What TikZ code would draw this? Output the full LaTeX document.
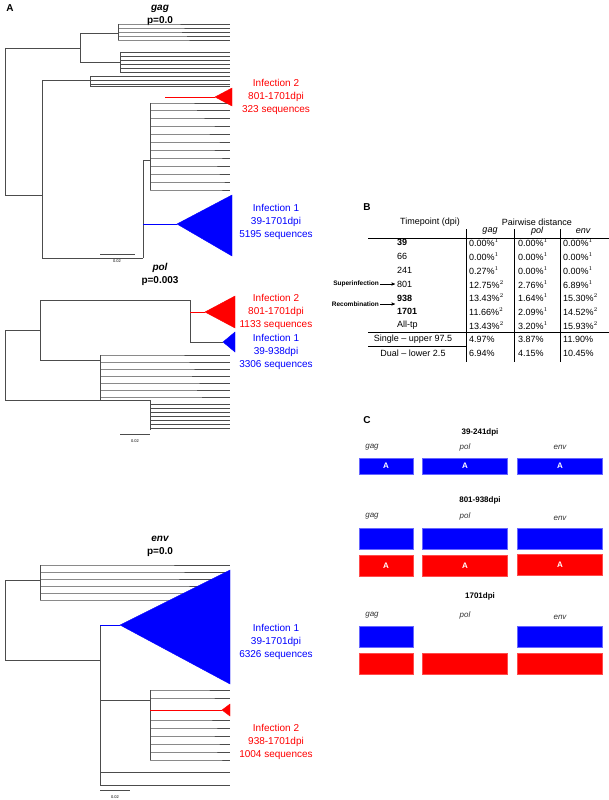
\documentclass[tikz,border=0pt]{standalone}
\usepackage{fontspec}
\setmainfont{Liberation Sans}
\usetikzlibrary{arrows}
\begin{document}
\begin{tikzpicture}[x=1pt,y=-1pt,>=stealth',
  br/.style={draw=black!70,line width=0.4pt},
  gene/.style={font=\bfseries\itshape\fontsize{10}{12}\selectfont},
  pval/.style={font=\bfseries\fontsize{10}{12}\selectfont},
  inf1/.style={text=blue,font=\fontsize{10}{13}\selectfont,align=center},
  inf2/.style={text=red,font=\fontsize{10}{13}\selectfont,align=center},
  cell/.style={font=\fontsize{9}{10}\selectfont,inner sep=1pt},
  bar/.style={minimum width=#1,minimum height=21,inner sep=0pt,text=white,font=\bfseries\fontsize{8}{9}\selectfont},
  blueb/.style={bar=#1,fill=blue,draw=blue!60},
  redb/.style={bar=#1,fill=red,draw=red!70},
  ctitle/.style={font=\bfseries\fontsize{8}{10}\selectfont},
  cgene/.style={font=\itshape\fontsize{8}{10}\selectfont,text=black!80},
  panel/.style={font=\bfseries\fontsize{10}{12}\selectfont}]
\useasboundingbox (0,0) rectangle (609,800);

% panel A
\node[panel] (A) at (10,8) {A};
\node[gene] (gagt) at (160,9) {gag};
\node[pval] (gagp) at (160,21) {p=0.0};
% gag tree
\draw[br] (5,48) -- (5,195);
\draw[br] (5,48) -| (80,33) -- (118,33) (80,48) -- (80,62) -- (120,62);
\draw[br] (118,24) -- (118,40) (120,52) -- (120,72);
\foreach \y/\x in {24/132,28/140,32/135,36/145,40/150}{\draw[br] (118,\y) -- (\x,\y) -- (230,\y);}
\foreach \y in {52,56,60,64,68,72}{\draw[br] (120,\y) -- (230,\y);}
\draw[br] (5,195) -- (42,195);
\draw[br] (42,80) -- (42,258);
\draw[br] (42,80) -- (90,80) (90,76) -- (90,86);
\foreach \y in {76,80,84,86}{\draw[br] (90,\y) -- (230,\y);}
\draw[br] (42,258) -- (143,258);
\draw[br] (143,160) -- (143,258);
\draw[br] (143,160) -- (150,160) (150,103) -- (150,190);
\foreach \y/\x in {103/160,110/165,118/180,126/200,134/190,142/210,150/200,158/215,166/205,174/210,182/220,190/215}
  {\draw[br] (150,\y) -- (\x,\y) -- (230,\y);}
\draw[red] (165,97) -- (215,97);
\filldraw[red] (215,97) -- (232,88) -- (232,106) -- cycle;
\draw[blue] (143,224) -- (177,224);
\filldraw[blue] (177,224) -- (232,195) -- (232,256) -- cycle;
\node[inf2] (g2) at (276,97) {Infection 2\\801-1701dpi\\323 sequences};
\node[inf1] (g1) at (276,222) {Infection 1\\39-1701dpi\\5195 sequences};
\draw[br] (100,254) -- (135,254);
\node[font=\fontsize{4}{5}\selectfont] (gs) at (117,261) {0.02};

% pol tree
\node[gene] (polt) at (160,268) {pol};
\node[pval] (polp) at (160,281) {p=0.003};
\draw[br] (5,330) -- (5,400) (5,400) -- (150,400);
\draw[br] (5,330) -- (40,330) (40,300) -- (40,360);
\draw[br] (40,300) -- (190,300) (190,312) -- (205,312) (190,300) -- (190,342) (190,342) -- (223,342);
\draw[br] (40,360) -- (100,360) (100,355) -- (100,400);
\foreach \y/\x in {355/140,362/150,369/160,376/155,383/170,390/165,397/175}
  {\draw[br] (100,\y) -- (\x,\y) -- (230,\y);}
\draw[br] (150,400) -- (150,430);
\foreach \y in {404,408,412,416,420,424,428}{\draw[br] (150,\y) -- (230,\y);}
\draw[red] (190,312) -- (205,312);
\filldraw[red] (205,312) -- (235,296) -- (235,328) -- cycle;
\filldraw[blue] (223,342) -- (235,332) -- (235,352) -- cycle;
\node[inf2] (p2) at (276,312) {Infection 2\\801-1701dpi\\1133 sequences};
\node[inf1] (p1) at (276,352) {Infection 1\\39-938dpi\\3306 sequences};
\draw[br] (120,434) -- (150,434);
\node[font=\fontsize{4}{5}\selectfont] (ps) at (135,441) {0.02};

% env tree
\node[gene] (envt) at (160,539) {env};
\node[pval] (envp) at (160,552) {p=0.0};
\draw[br] (5,580) -- (5,660);
\draw[br] (5,580) -- (40,580) (40,565) -- (40,600);
\foreach \y/\x in {565/120,572/140,579/130,586/150,593/160,600/145}{\draw[br] (40,\y) -- (\x,\y) -- (230,\y);}
\draw[br] (5,660) -- (100,660) (100,625) -- (100,760);
\draw[blue] (100,625) -- (120,625);
\filldraw[blue] (120,625) -- (230,570) -- (230,684) -- cycle;
\draw[br] (100,700) -- (150,700) (150,690) -- (150,760);
\draw[red] (150,710) -- (222,710);
\filldraw[red] (222,710) -- (230,704) -- (230,716) -- cycle;
\foreach \y/\x in {690/190,698/200,720/195,728/205,736/200,744/210,752/205,760/215}{\draw[br] (150,\y) -- (\x,\y) -- (230,\y);}
\draw[br] (100,760) -- (100,785) -- (230,785) (100,772) -- (230,772);
\node[inf1] (e1) at (276,642) {Infection 1\\39-1701dpi\\6326 sequences};
\node[inf2] (e2) at (276,742) {Infection 2\\938-1701dpi\\1004 sequences};
\draw[br] (100,790) -- (130,790);
\node[font=\fontsize{4}{5}\selectfont] (es) at (115,797) {0.02};

% panel B
\node[panel] (B) at (367,207) {B};
\node[cell] (tp) at (430,222) {Timepoint (dpi)};
\node[cell] (pd) at (537,222) {Pairwise distance};
\draw (368,238) -- (609,238);
\foreach \x in {466,514,560}{\draw (\x,229) -- (\x,362);}
\node[cell,font=\itshape\fontsize{9}{10}\selectfont] (hg) at (490,231) {gag};
\node[cell,font=\itshape\fontsize{9}{10}\selectfont] (hp) at (537,231) {pol};
\node[cell,font=\itshape\fontsize{9}{10}\selectfont] (he) at (583,231) {env};
\foreach \t/\g/\p/\e [count=\i] in {
  \textbf{39}/0.00\%$^1$/0.00\%$^1$/0.00\%$^1$,
  66/0.00\%$^1$/0.00\%$^1$/0.00\%$^1$,
  241/0.27\%$^1$/0.00\%$^1$/0.00\%$^1$,
  801/12.75\%$^2$/2.76\%$^1$/6.89\%$^1$,
  \textbf{938}/13.43\%$^2$/1.64\%$^1$/15.30\%$^2$,
  \textbf{1701}/11.66\%$^2$/2.09\%$^1$/14.52\%$^2$,
  All-tp/13.43\%$^2$/3.20\%$^1$/15.93\%$^2$}{
  \node[cell,anchor=west] (t\i) at (396,229+13.8*\i) {\t};
  \node[cell,anchor=west] (g\i) at (468,229+13.8*\i) {\g};
  \node[cell,anchor=west] (p\i) at (517,229+13.8*\i) {\p};
  \node[cell,anchor=west] (e\i) at (562,229+13.8*\i) {\e};
}
\draw (368,332) -- (609,332);
\node[cell] (sr) at (413,339) {Single -- upper 97.5};
\node[cell,anchor=west] (sr1) at (468,339) {4.97\%};
\node[cell,anchor=west] (sr2) at (517,339) {3.87\%};
\node[cell,anchor=west] (sr3) at (562,339) {11.90\%};
\draw (368,346) -- (466,346);
\node[cell] (dr) at (413,353) {Dual -- lower 2.5};
\node[cell,anchor=west] (dr1) at (468,353) {6.94\%};
\node[cell,anchor=west] (dr2) at (517,353) {4.15\%};
\node[cell,anchor=west] (dr3) at (562,353) {10.45\%};
\node[cell,font=\bfseries\fontsize{6.5}{8}\selectfont,anchor=east] (sup) at (380,284) {Superinfection};
\node[cell,font=\bfseries\fontsize{6.5}{8}\selectfont,anchor=east] (rec) at (380,304) {Recombination};
\draw[->] (sup.east) -- (395,284);
\draw[->] (rec.east) -- (395,304);

% panel C
\node[panel] (C) at (367,420) {C};
\node[ctitle] (c1) at (480,432) {39-241dpi};
\node[cgene] (c1g) at (372,447) {gag};
\node[cgene] (c1p) at (465,447) {pol};
\node[cgene] (c1e) at (560,447) {env};
\node[blueb=54,minimum height=16] (b1g) at (386,466) {A};
\node[blueb=85,minimum height=16] (b1p) at (465,466) {A};
\node[blueb=85,minimum height=16] (b1e) at (560,466) {A};
\node[ctitle] (c2) at (480,500) {801-938dpi};
\node[cgene] (c2g) at (372,516) {gag};
\node[cgene] (c2p) at (465,516) {pol};
\node[cgene] (c2e) at (560,518) {env};
\node[blueb=54] (b2g) at (386,539) {};
\node[blueb=85] (b2p) at (465,539) {};
\node[blueb=85] (b2e) at (560,539) {};
\node[redb=54] (r2g) at (386,566) {A};
\node[redb=85] (r2p) at (465,566) {A};
\node[redb=85] (r2e) at (560,565) {A};
\node[ctitle] (c3) at (480,596) {1701dpi};
\node[cgene] (c3g) at (372,615) {gag};
\node[cgene] (c3p) at (465,615) {pol};
\node[cgene] (c3e) at (560,617) {env};
\node[blueb=54] (b3g) at (386,637) {};
\node[blueb=85] (b3e) at (560,637) {};
\node[redb=54] (r3g) at (386,664) {};
\node[redb=85] (r3p) at (465,664) {};
\node[redb=85] (r3e) at (560,664) {};
\end{tikzpicture}
\end{document}
